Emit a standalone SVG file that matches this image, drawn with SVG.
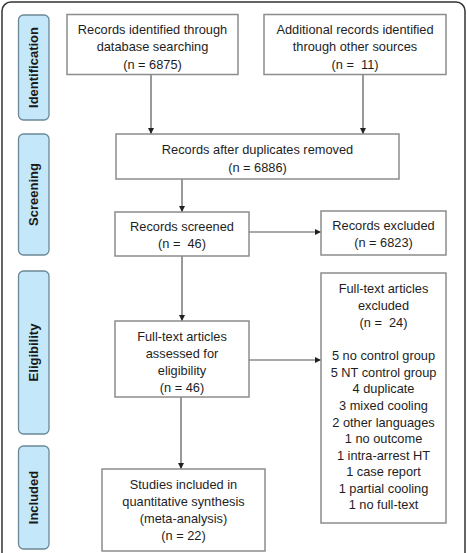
<svg xmlns="http://www.w3.org/2000/svg" width="467" height="553" viewBox="0 0 467 553">
<defs>
<marker id="ah" viewBox="0 0 10 10" refX="10" refY="5" markerWidth="6" markerHeight="6" markerUnits="userSpaceOnUse" orient="auto">
<path d="M0,0 L10,5 L0,10 z" fill="#222"/>
</marker>
<style>
.box{fill:#fff;stroke:#8c8c8c;stroke-width:1.5}
.lab{fill:#c4e8f9;stroke:#6b8896;stroke-width:1.3}
.t{font-family:"Liberation Sans",Arial,sans-serif;font-size:12.8px;fill:#1e1e1e;text-anchor:middle;white-space:pre}
.lt{font-family:"Liberation Sans",Arial,sans-serif;font-size:13px;font-weight:bold;fill:#1a1a1a;text-anchor:middle}
.c{stroke:#555;stroke-width:1.2;fill:none;marker-end:url(#ah)}
</style>
</defs>
<rect x="2" y="2" width="463" height="560" rx="9" fill="#fff" stroke="#333" stroke-width="1.5"/>
<g id="label-identification"><rect class="lab" x="18.5" y="15" width="30.5" height="105" rx="5"/><text class="lt" transform="translate(38,67.5) rotate(-90)">Identification</text></g>
<g id="label-screening"><rect class="lab" x="18.5" y="134" width="30.5" height="121" rx="5"/><text class="lt" transform="translate(38,194.5) rotate(-90)">Screening</text></g>
<g id="label-eligibility"><rect class="lab" x="18.5" y="271" width="30.5" height="163" rx="5"/><text class="lt" transform="translate(38,352.5) rotate(-90)">Eligibility</text></g>
<g id="label-included"><rect class="lab" x="18.5" y="446" width="30.5" height="103" rx="5"/><text class="lt" transform="translate(38,497.5) rotate(-90)">Included</text></g>
<g id="connectors">
<line class="c" x1="151" y1="75" x2="151" y2="134"/>
<line class="c" x1="363" y1="75" x2="363" y2="134"/>
<line class="c" x1="182" y1="179" x2="182" y2="212"/>
<line class="c" x1="249" y1="232" x2="321" y2="232"/>
<line class="c" x1="182" y1="256" x2="182" y2="321"/>
<line class="c" x1="249" y1="360" x2="321" y2="360"/>
<line class="c" x1="181" y1="397" x2="181" y2="469"/>
</g>
<g id="n1"><rect class="box" x="67" y="14.5" width="171" height="60"/><text class="t" x="152.5" y="33.5">Records identified through</text><text class="t" x="152.5" y="50.5">database searching</text><text class="t" x="152.5" y="68.5">(n = 6875)</text></g>
<g id="n2"><rect class="box" x="264" y="14.5" width="182" height="60"/><text class="t" x="355" y="33.5">Additional records identified</text><text class="t" x="355" y="50.5">through other sources</text><text class="t" x="355" y="68.5">(n =  11)</text></g>
<g id="n3"><rect class="box" x="116" y="134" width="283" height="45"/><text class="t" x="257.5" y="153.5">Records after duplicates removed</text><text class="t" x="257.5" y="171.5">(n = 6886)</text></g>
<g id="n4"><rect class="box" x="115" y="212" width="134" height="44"/><text class="t" x="182" y="230.5">Records screened</text><text class="t" x="182" y="247.5">(n =  46)</text></g>
<g id="n5"><rect class="box" x="321" y="211" width="125" height="44"/><text class="t" x="383.5" y="229.5">Records excluded</text><text class="t" x="383.5" y="246.5">(n = 6823)</text></g>
<g id="n6"><rect class="box" x="115" y="321" width="134" height="76"/><text class="t" x="182" y="340.5">Full-text articles</text><text class="t" x="182" y="357.5">assessed for</text><text class="t" x="182" y="374.5">eligibility</text><text class="t" x="182" y="391.5">(n = 46)</text></g>
<g id="n7"><rect class="box" x="321" y="273" width="125" height="250"/>
<text class="t" x="383.5" y="292.5">Full-text articles</text>
<text class="t" x="383.5" y="309.5">excluded</text>
<text class="t" x="383.5" y="326.5">(n =  24)</text>
<text class="t" x="383.5" y="359.5">5 no control group</text>
<text class="t" x="383.5" y="376.5">5 NT control group</text>
<text class="t" x="383.5" y="393">4 duplicate</text>
<text class="t" x="383.5" y="409.5">3 mixed cooling</text>
<text class="t" x="383.5" y="426.5">2 other languages</text>
<text class="t" x="383.5" y="443">1 no outcome</text>
<text class="t" x="383.5" y="459.5">1 intra-arrest HT</text>
<text class="t" x="383.5" y="476">1 case report</text>
<text class="t" x="383.5" y="492.5">1 partial cooling</text>
<text class="t" x="383.5" y="509">1 no full-text</text>
</g>
<g id="n8"><rect class="box" x="102" y="469" width="163" height="82"/><text class="t" x="183.5" y="488.5">Studies included in</text><text class="t" x="183.5" y="505.5">quantitative synthesis</text><text class="t" x="183.5" y="522.5">(meta-analysis)</text><text class="t" x="183.5" y="539.5">(n = 22)</text></g>
</svg>
